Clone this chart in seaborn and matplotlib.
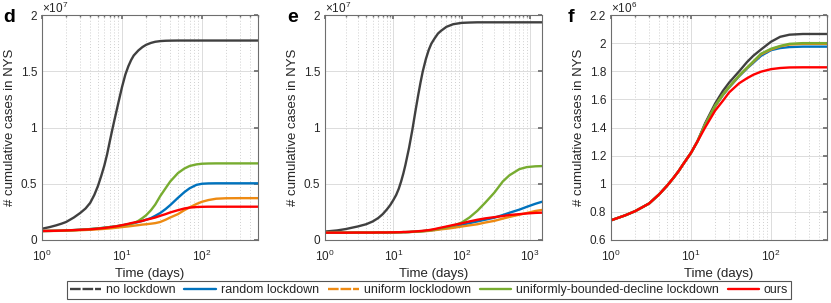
import matplotlib
matplotlib.use("Agg")
import numpy as np
import pandas as pd
import seaborn as sns
import matplotlib.pyplot as plt
import matplotlib.transforms as mtransforms
from matplotlib.lines import Line2D
from matplotlib.ticker import LogLocator, FuncFormatter, NullFormatter, FixedLocator

# ---------------- data ----------------
series_names = ["no lockdown", "random lockdown", "uniform locklodown",
                "uniformly-bounded-decline lockdown", "ours"]
series_colors = ["#404040", "#0072BD", "#EE8A12", "#77AC30", "#FF0000"]

# panel d (values in units of 1e7)
t_d = [1, 1.25, 1.5, 1.75, 2, 2.5, 3, 3.5, 4, 4.5, 5, 5.5, 6, 6.5, 7, 7.5, 8, 9, 10,
       11, 12, 13, 14, 16, 18, 20, 23, 26, 30, 35, 40, 50, 60, 70, 85, 100, 120, 150,
       200, 300, 500]
d_no = [0.10, 0.115, 0.13, 0.145, 0.16, 0.20, 0.24, 0.28, 0.33, 0.40, 0.48, 0.57, 0.66,
        0.76, 0.87, 0.97, 1.06, 1.22, 1.36, 1.47, 1.545, 1.60, 1.64, 1.685, 1.715, 1.735,
        1.752, 1.762, 1.768, 1.771, 1.772, 1.773, 1.773, 1.773, 1.773, 1.773, 1.773,
        1.773, 1.773, 1.773, 1.773]
d_random = [0.080, 0.081, 0.082, 0.083, 0.085, 0.088, 0.091, 0.094, 0.097, 0.100, 0.103,
            0.106, 0.109, 0.112, 0.115, 0.117, 0.12, 0.125, 0.13, 0.135, 0.14, 0.145,
            0.15, 0.16, 0.17, 0.18, 0.195, 0.215, 0.24, 0.275, 0.31, 0.375, 0.425, 0.46,
            0.49, 0.50, 0.503, 0.504, 0.504, 0.504, 0.504]
d_uniform = [0.08, 0.0805, 0.081, 0.082, 0.083, 0.085, 0.087, 0.089, 0.091, 0.093, 0.095,
             0.097, 0.099, 0.101, 0.103, 0.105, 0.107, 0.111, 0.115, 0.118, 0.121, 0.124,
             0.127, 0.132, 0.137, 0.14, 0.145, 0.15, 0.16, 0.18, 0.20, 0.23, 0.265, 0.29,
             0.32, 0.34, 0.355, 0.367, 0.371, 0.372, 0.372]
d_ubd = [0.080, 0.081, 0.082, 0.083, 0.085, 0.088, 0.091, 0.094, 0.097, 0.100, 0.103,
         0.106, 0.109, 0.112, 0.115, 0.117, 0.12, 0.125, 0.13, 0.135, 0.14, 0.145, 0.15,
         0.17, 0.195, 0.22, 0.265, 0.315, 0.39, 0.46, 0.52, 0.595, 0.635, 0.658, 0.672,
         0.678, 0.68, 0.681, 0.681, 0.681, 0.681]
d_ours = [0.08, 0.081, 0.082, 0.0835, 0.085, 0.088, 0.091, 0.093, 0.095, 0.098, 0.101,
          0.104, 0.107, 0.110, 0.113, 0.116, 0.119, 0.125, 0.132, 0.138, 0.144, 0.15,
          0.155, 0.162, 0.17, 0.18, 0.19, 0.20, 0.215, 0.23, 0.245, 0.265, 0.28, 0.288,
          0.293, 0.295, 0.296, 0.296, 0.296, 0.296, 0.296]

# panel e (values in units of 1e7)
t_e = [1, 1.5, 2, 3, 4, 5, 6, 7, 8, 9, 10, 11, 12, 13, 14, 15, 17, 19, 21, 23, 25, 27,
       30, 33, 36, 40, 45, 50, 60, 75, 100, 130, 170, 220, 300, 400, 500, 700, 900,
       1200, 1500]
e_no = [0.075, 0.085, 0.097, 0.12, 0.14, 0.165, 0.195, 0.23, 0.27, 0.31, 0.355, 0.40,
        0.455, 0.52, 0.59, 0.665, 0.82, 0.98, 1.14, 1.28, 1.40, 1.50, 1.61, 1.69, 1.745,
        1.79, 1.835, 1.86, 1.895, 1.918, 1.93, 1.933, 1.935, 1.935, 1.935, 1.935, 1.935,
        1.935, 1.935, 1.935, 1.935]
e_random = [0.065, 0.065, 0.065, 0.066, 0.066, 0.066, 0.067, 0.067, 0.067, 0.068, 0.068,
            0.068, 0.069, 0.069, 0.07, 0.07, 0.071, 0.073, 0.074, 0.076, 0.077, 0.079,
            0.081, 0.083, 0.086, 0.09, 0.095, 0.1, 0.108, 0.12, 0.135, 0.15, 0.165, 0.18,
            0.198, 0.222, 0.242, 0.27, 0.295, 0.322, 0.34]
e_uniform = [0.065, 0.065, 0.065, 0.066, 0.066, 0.066, 0.067, 0.067, 0.067, 0.068, 0.068,
             0.068, 0.069, 0.069, 0.07, 0.07, 0.071, 0.072, 0.073, 0.074, 0.076, 0.077,
             0.079, 0.081, 0.084, 0.087, 0.091, 0.095, 0.1, 0.108, 0.12, 0.13, 0.14,
             0.155, 0.17, 0.19, 0.205, 0.225, 0.24, 0.258, 0.267]
e_ubd = [0.065, 0.065, 0.065, 0.066, 0.066, 0.066, 0.067, 0.067, 0.067, 0.068, 0.068,
         0.068, 0.069, 0.069, 0.07, 0.07, 0.071, 0.073, 0.074, 0.076, 0.077, 0.079, 0.082,
         0.085, 0.088, 0.093, 0.098, 0.103, 0.112, 0.127, 0.155, 0.20, 0.26, 0.33, 0.42,
         0.52, 0.575, 0.63, 0.648, 0.655, 0.657]
e_ours = [0.065, 0.065, 0.065, 0.066, 0.066, 0.066, 0.067, 0.067, 0.067, 0.068, 0.068,
          0.069, 0.069, 0.07, 0.071, 0.071, 0.072, 0.074, 0.076, 0.078, 0.08, 0.082,
          0.085, 0.088, 0.092, 0.097, 0.104, 0.11, 0.12, 0.133, 0.148, 0.165, 0.18,
          0.192, 0.203, 0.213, 0.222, 0.23, 0.236, 0.241, 0.243]

# panel f (values in units of 1e6)
t_f = [1, 1.5, 2, 2.5, 3, 4, 5, 6, 7, 8, 10, 12, 15, 20, 25, 30, 40, 50, 60, 75, 100,
       130, 170, 250, 500]
f_no = [0.74, 0.775, 0.805, 0.835, 0.86, 0.925, 0.985, 1.04, 1.09, 1.14, 1.22, 1.30,
        1.43, 1.57, 1.66, 1.72, 1.80, 1.865, 1.91, 1.955, 2.01, 2.045, 2.06, 2.065, 2.065]
f_random = [0.74, 0.775, 0.805, 0.835, 0.86, 0.925, 0.985, 1.04, 1.09, 1.14, 1.22, 1.30,
            1.42, 1.55, 1.63, 1.685, 1.765, 1.82, 1.86, 1.91, 1.95, 1.965, 1.972, 1.975,
            1.975]
f_uniform = [0.74, 0.775, 0.805, 0.835, 0.86, 0.925, 0.985, 1.04, 1.09, 1.14, 1.22, 1.30,
             1.42, 1.553, 1.633, 1.688, 1.768, 1.823, 1.866, 1.92, 1.955, 1.977, 1.99,
             1.995, 1.995]
f_ubd = [0.74, 0.775, 0.805, 0.835, 0.86, 0.925, 0.985, 1.04, 1.09, 1.14, 1.22, 1.30,
         1.42, 1.555, 1.635, 1.69, 1.77, 1.825, 1.87, 1.925, 1.96, 1.98, 1.995, 2.0, 2.0]
f_ours = [0.74, 0.775, 0.805, 0.835, 0.86, 0.925, 0.985, 1.04, 1.09, 1.14, 1.22, 1.30,
          1.40, 1.52, 1.59, 1.65, 1.715, 1.75, 1.775, 1.797, 1.815, 1.823, 1.827, 1.828,
          1.828]

panel_letters = ["d", "e", "f"]
offset_labels = [r"$\times10^{7}$", r"$\times10^{7}$", r"$\times10^{6}$"]
y_label = "# cumulative cases in NYS"
x_label = "Time (days)"

# ---------------- style ----------------
sns.set_theme(style="white")
plt.rcParams["font.family"] = ["Liberation Sans", "DejaVu Sans"]
plt.rcParams["mathtext.fontset"] = "custom"
plt.rcParams["mathtext.rm"] = "Liberation Sans"
plt.rcParams["mathtext.it"] = "Liberation Sans:italic"
plt.rcParams["mathtext.bf"] = "Liberation Sans:bold"

fig = plt.figure(figsize=(8.31, 3.03), dpi=100)
W, H = 831, 303
boxes = [(42, 258), (325, 542), (611, 827)]
letter_x = [3, 287, 568]
top_px, bot_px = 15, 240

panels = [
    (t_d, [d_no, d_random, d_uniform, d_ubd, d_ours], (1, 500), (0, 2), [0, 0.5, 1, 1.5, 2], [1, 10, 100]),
    (t_e, [e_no, e_random, e_uniform, e_ubd, e_ours], (1, 1500), (0, 2), [0, 0.5, 1, 1.5, 2], [1, 10, 100, 1000]),
    (t_f, [f_no, f_random, f_uniform, f_ubd, f_ours], (1, 500), (0.6, 2.2),
     [0.6, 0.8, 1, 1.2, 1.4, 1.6, 1.8, 2, 2.2], [1, 10, 100]),
]

palette = dict(zip(series_names, series_colors))
tick_color = "#262626"

for i, (t, vals, xl, yl, yt, xt) in enumerate(panels):
    l, r = boxes[i]
    ax = fig.add_axes([l / W, 1 - bot_px / H, (r - l) / W, (bot_px - top_px) / H])
    frames = []
    for name, v in zip(series_names, vals):
        frames.append(pd.DataFrame({"t": t, "y": v, "series": name}))
    df = pd.concat(frames, ignore_index=True)
    sns.lineplot(data=df, x="t", y="y", hue="series", hue_order=series_names,
                 palette=palette, linewidth=1.7, legend=False, ax=ax,
                 estimator=None, sort=True)
    ax.set_xscale("log")
    ax.set_xlim(*xl)
    ax.set_ylim(*yl)
    ax.set_yticks(yt)
    ax.yaxis.set_major_formatter(FuncFormatter(lambda v, _: f"{v:g}"))
    ax.xaxis.set_major_locator(FixedLocator(xt))
    ax.xaxis.set_major_formatter(FuncFormatter(lambda v, _: r"$10^{%d}$" % round(np.log10(v))))
    ax.xaxis.set_minor_locator(LogLocator(base=10, subs=np.arange(2, 10), numticks=20))
    ax.xaxis.set_minor_formatter(NullFormatter())
    ax.grid(True, which="major", color="#dcdcdc", linewidth=0.7, linestyle="-")
    ax.grid(True, which="minor", axis="x", color="#cfcfcf", linewidth=0.7, linestyle=(0, (1, 2)))
    ax.set_axisbelow(True)
    for sp in ax.spines.values():
        sp.set_color("#6e6e6e")
        sp.set_linewidth(0.8)
    ax.tick_params(which="both", direction="in", top=True, right=True,
                   colors="#6e6e6e", labelcolor=tick_color, labelsize=8.5)
    ax.tick_params(which="major", length=3)
    ax.tick_params(which="minor", length=1.5)
    ax.tick_params(axis="x", pad=6)
    ax.set_xlabel(x_label, fontsize=9.5, color=tick_color, labelpad=3)
    ax.set_ylabel(y_label, fontsize=9.5, color=tick_color, labelpad=3)
    off = mtransforms.offset_copy(ax.transAxes, fig=fig, x=0, y=1.5, units="points")
    ax.text(0.0, 1.0, offset_labels[i], transform=off, ha="left",
            va="baseline", fontsize=8.5, color=tick_color)
    fig.text(letter_x[i] / W, 1 - 18 / H, panel_letters[i],
             fontsize=14, fontweight="bold", ha="left", va="center", color="black")

handles = []
for name, c in zip(series_names, series_colors):
    ls = (0, (4.5, 0.8)) if name in ("no lockdown", "uniform locklodown") else "-"
    handles.append(Line2D([0], [0], color=c, linewidth=1.7, linestyle=ls))
leg = fig.legend(handles, series_names, loc="center", bbox_to_anchor=(429 / W, 1 - 290 / H),
                 ncol=5, fontsize=9, frameon=True, fancybox=False, framealpha=1,
                 handlelength=2.5, handletextpad=0.4, columnspacing=0.7,
                 borderpad=0.25, borderaxespad=0)
leg.get_frame().set_edgecolor("#555555")
leg.get_frame().set_linewidth(0.8)

fig.savefig("out.png", dpi=100)
